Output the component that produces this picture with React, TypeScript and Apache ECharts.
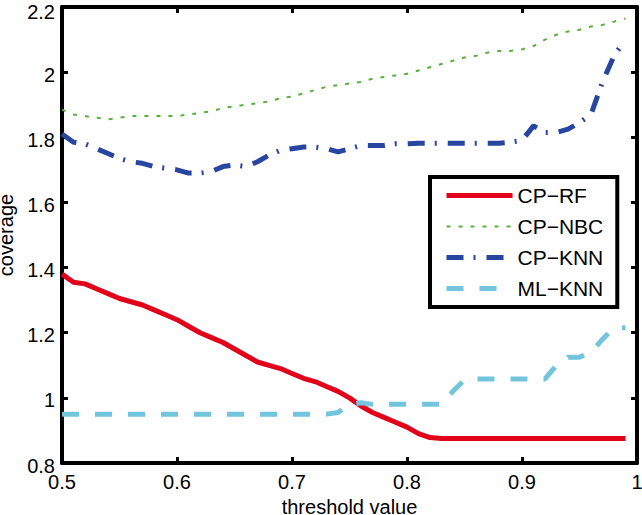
import React, { useEffect, useRef } from "react";
import * as echarts from "echarts";

const thresholds = [
  0.5, 0.51, 0.52, 0.53, 0.54, 0.55, 0.56, 0.57, 0.58, 0.59,
  0.6, 0.61, 0.62, 0.63, 0.64, 0.65, 0.66, 0.67, 0.68, 0.69,
  0.7, 0.71, 0.72, 0.73, 0.74, 0.75, 0.76, 0.77, 0.78, 0.79,
  0.8, 0.81, 0.82, 0.83, 0.84, 0.85, 0.86, 0.87, 0.88, 0.89,
  0.9, 0.91, 0.92, 0.93, 0.94, 0.95, 0.96, 0.97, 0.98, 0.99,
];

const cpRF = [
  1.38, 1.355, 1.35, 1.335, 1.32, 1.305, 1.295, 1.285, 1.27, 1.255,
  1.24, 1.22, 1.2, 1.185, 1.17, 1.15, 1.13, 1.11, 1.1, 1.09,
  1.075, 1.06, 1.05, 1.035, 1.02, 1.0, 0.975, 0.955, 0.94, 0.925,
  0.91, 0.89, 0.878, 0.875, 0.875, 0.875, 0.875, 0.875, 0.875, 0.875,
  0.875, 0.875, 0.875, 0.875, 0.875, 0.875, 0.875, 0.875, 0.875, 0.875,
];

const cpNBC = [
  1.885, 1.87, 1.865, 1.86, 1.855, 1.86, 1.865, 1.865, 1.865, 1.865,
  1.865, 1.87, 1.875, 1.88, 1.89, 1.895, 1.9, 1.905, 1.91, 1.92,
  1.925, 1.935, 1.945, 1.955, 1.96, 1.965, 1.97, 1.98, 1.985, 1.99,
  1.995, 2.005, 2.015, 2.025, 2.035, 2.045, 2.05, 2.06, 2.065, 2.065,
  2.07, 2.08, 2.1, 2.115, 2.125, 2.13, 2.14, 2.145, 2.155, 2.165,
];

const cpKNN = [
  1.81, 1.785, 1.78, 1.765, 1.75, 1.735, 1.725, 1.72, 1.71, 1.705,
  1.7, 1.69, 1.69, 1.695, 1.71, 1.715, 1.71, 1.725, 1.745, 1.76,
  1.765, 1.77, 1.77, 1.765, 1.755, 1.765, 1.775, 1.775, 1.775, 1.78,
  1.78, 1.782, 1.782, 1.782, 1.782, 1.782, 1.782, 1.782, 1.782, 1.785,
  1.79, 1.835, 1.815, 1.815, 1.825, 1.845, 1.87, 1.97, 2.05, 2.1,
];

const mlKNN = [
  0.95, 0.95, 0.95, 0.95, 0.95, 0.95, 0.95, 0.95, 0.95, 0.95,
  0.95, 0.95, 0.95, 0.95, 0.95, 0.95, 0.95, 0.95, 0.95, 0.95,
  0.95, 0.95, 0.95, 0.95, 0.955, 0.98, 0.985, 0.98, 0.98, 0.98,
  0.98, 0.98, 0.98, 0.98, 1.02, 1.055, 1.058, 1.058, 1.058, 1.058,
  1.058, 1.058, 1.058, 1.1, 1.125, 1.125, 1.14, 1.18, 1.215, 1.215,
];

const seriesNames = ["CP−RF", "CP−NBC", "CP−KNN", "ML−KNN"];
const xTicks = { min: 0.5, max: 1, interval: 0.1 };
const yTicks = { min: 0.8, max: 2.2, interval: 0.2 };

const FONT = "Liberation Sans, Arial, Helvetica, sans-serif";

const lineStyles = [
  { color: "#e2001a", width: 5, type: "solid" as any },
  { color: "#5aaf3c", width: 2, type: [4, 8] as any },
  { color: "#2845a0", width: 5, type: [17, 10, 2, 11] as any },
  { color: "#72c5dc", width: 5, type: [17, 16] as any },
];

function pairs(ys: number[]) {
  return thresholds.map((x, i) => [x, ys[i]]);
}

export default function App() {
  const ref = useRef<HTMLDivElement>(null);
  useEffect(() => {
    if (!ref.current) return;
    const chart = echarts.init(ref.current, undefined, { renderer: "svg" });
    const axisLine = { show: true, lineStyle: { color: "#000", width: 4 } };
    const tick = { show: true, inside: true, length: 6, lineStyle: { color: "#000", width: 3 } };
    const label = { color: "#000", fontSize: 20, fontFamily: FONT };
    const allData = [cpRF, cpNBC, cpKNN, mlKNN];
    chart.setOption({
      animation: false,
      backgroundColor: "#fff",
      grid: { left: 62, top: 7, right: 5, bottom: 52, containLabel: false, outerBoundsMode: "none" },
      legend: {
        orient: "vertical",
        left: 430,
        top: 177,
        data: seriesNames.map((n, i) => ({
          name: n,
          itemStyle: { opacity: 0 },
          lineStyle: lineStyles[i],
        })),
        itemWidth: 66,
        itemHeight: 14,
        itemGap: 10,
        padding: [8, 14, 8, 14],
        borderColor: "#000",
        borderWidth: 4,
        backgroundColor: "#fff",
        textStyle: { color: "#000", fontSize: 21, fontFamily: FONT, lineHeight: 20 },
      },
      xAxis: [
        {
          type: "value",
          position: "bottom",
          ...xTicks,
          name: "threshold value",
          nameLocation: "middle",
          nameGap: 28,
          nameTextStyle: { color: "#000", fontSize: 20, fontFamily: FONT },
          axisLine,
          axisTick: tick,
          axisLabel: { ...label, margin: 9 },
          splitLine: { show: false },
        },
        {
          type: "value",
          position: "top",
          ...xTicks,
          axisLine,
          axisTick: tick,
          axisLabel: { show: false },
          splitLine: { show: false },
        },
      ],
      yAxis: [
        {
          type: "value",
          position: "left",
          ...yTicks,
          name: "coverage",
          nameLocation: "middle",
          nameGap: 39,
          nameTextStyle: { color: "#000", fontSize: 20, fontFamily: FONT },
          axisLine,
          axisTick: tick,
          axisLabel: {
            ...label,
            margin: 7,
            lineHeight: 12,
            padding: [5, 0, 0, 0],
            formatter: (v: number) => (v >= yTicks.max - 1e-9 ? `{t|${v}}` : `${v}`),
            rich: {
              t: { color: "#000", fontSize: 20, fontFamily: FONT, lineHeight: 12, padding: [4, 0, 0, 0] },
            },
          },
          splitLine: { show: false },
        },
        {
          type: "value",
          position: "right",
          ...yTicks,
          axisLine,
          axisTick: tick,
          axisLabel: { show: false },
          splitLine: { show: false },
        },
      ],
      series: seriesNames.map((n, i) => ({
        name: n,
        type: "line",
        data: pairs(allData[i]),
        symbol: "none",
        lineStyle: lineStyles[i],
        itemStyle: { color: lineStyles[i].color },
      })),
    });
    return () => chart.dispose();
  }, []);
  return <div ref={ref} style={{ width: 642, height: 515, position: "absolute", left: 0, top: 0 }} />;
}
